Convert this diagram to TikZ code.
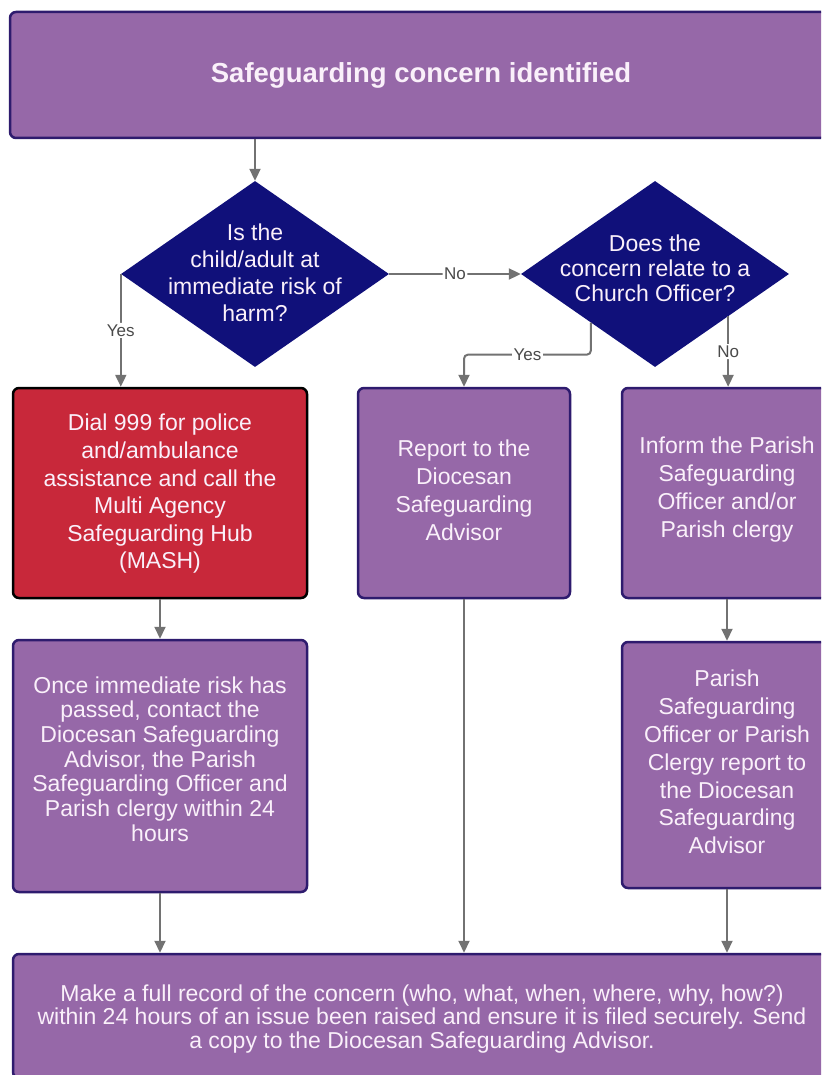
\documentclass[tikz,border=0pt]{standalone}
\usepackage{fontspec}
\setmainfont{Liberation Sans}
\usetikzlibrary{shapes.geometric,arrows.meta,calc}
\definecolor{boxpurple}{HTML}{9668A8}
\definecolor{boxborder}{HTML}{2E1B6E}
\definecolor{dianavy}{HTML}{10107A}
\definecolor{alertred}{HTML}{C8283A}
\definecolor{arrowgray}{HTML}{727272}
\definecolor{labelgray}{HTML}{4A4A4A}
\definecolor{textwhite}{HTML}{FAF0FA}
\begin{document}
\begin{tikzpicture}[x=1pt,y=-1pt,
  pbox/.style={draw=boxborder, line width=2.5pt, fill=boxpurple, rounded corners=6pt, inner sep=0pt},
  rbox/.style={pbox, draw=black, fill=alertred},
  dia/.style={diamond, fill=dianavy, draw=none, inner sep=0pt, minimum width=268pt, minimum height=186pt},
  btext/.style={text=textwhite, align=center, inner sep=0pt},
  conn/.style={draw=arrowgray, line width=2pt, -{Triangle[length=12pt,width=11pt]}, rounded corners=4pt},
  lbl/.style={fill=white, text=labelgray, font=\fontsize{17}{20}\selectfont, inner sep=1.5pt},
]
\useasboundingbox (0,0) rectangle (821,1075);
\fill[white] (0,0) rectangle (821,1075);
\begin{scope}
\clip (0,0) rectangle (821,1075);

% boxes and decisions
\node[pbox, minimum width=822pt, minimum height=126pt] (start) at (421,75) {};
\node[dia] (q1) at (255,274) {};
\node[dia] (q2) at (655,274) {};
\node[rbox, minimum width=294pt, minimum height=210pt] (dial) at (160,493) {};
\node[pbox, minimum width=212pt, minimum height=210pt] (report) at (464,493) {};
\node[pbox, minimum width=210pt, minimum height=210pt] (inform) at (727,493) {};
\node[pbox, minimum width=294pt, minimum height=252pt] (once) at (160,766) {};
\node[pbox, minimum width=210pt, minimum height=246pt] (parish) at (727,765) {};
\node[pbox, minimum width=818pt, minimum height=124pt] (final) at (422,1016) {};

% texts
\node[btext, font=\bfseries\fontsize{27.5}{32}\selectfont] (starttext) at (421,75) {Safeguarding concern identified};
\node[btext, font=\fontsize{23}{27}\selectfont] (q1text) at (255,273) {Is the\\child/adult at\\immediate risk of\\harm?};
\node[btext, font=\fontsize{23}{25}\selectfont] (q2text) at (655,268) {Does the\\concern relate to a\\Church Officer?};
\node[btext, font=\fontsize{23}{27.6}\selectfont] (dialtext) at (160,494) {Dial 999 for police\\and/ambulance\\assistance and call the\\Multi Agency\\Safeguarding Hub\\(MASH)};
\node[btext, font=\fontsize{23}{28}\selectfont] (reporttext) at (464,490) {Report to the\\Diocesan\\Safeguarding\\Advisor};
\node[btext, font=\fontsize{23}{28}\selectfont] (informtext) at (727,490) {Inform the Parish\\Safeguarding\\Officer and/or\\Parish clergy};
\node[btext, font=\fontsize{23}{24.7}\selectfont] (oncetext) at (160,759) {Once immediate risk has\\passed, contact the\\Diocesan Safeguarding\\Advisor, the Parish\\Safeguarding Officer and\\Parish clergy within 24\\hours};
\node[btext, font=\fontsize{23}{27.8}\selectfont] (parishtext) at (727,762) {Parish\\Safeguarding\\Officer or Parish\\Clergy report to\\the Diocesan\\Safeguarding\\Advisor};
\node[btext, font=\fontsize{23}{23.5}\selectfont] (finaltext) at (422,1019) {Make a full record of the concern (who, what, when, where, why, how?)\\within 24 hours of an issue been raised and ensure it is filed securely. Send\\a copy to the Diocesan Safeguarding Advisor.};

% connectors
\draw[conn] (start.south -| q1.north) -- (q1.north);
\draw[conn] (q1.west) -- node[lbl]{Yes} (q1.west |- dial.north);
\draw[conn] (q1.east) -- node[lbl]{No} (q2.west);
\coordinate (q2y) at ($(q2.south)!0.478!(q2.west)$);
\draw[conn] (q2y) -- ++(0,32) -| node[lbl,pos=0.25]{Yes} (report.north);
\coordinate (q2n) at ($(q2.south)!0.545!(q2.east)$);
\draw[conn] (q2n) -- node[lbl]{No} (q2n |- inform.north);
\draw[conn] (dial.south) -- (once.north);
\draw[conn] (inform.south) -- (parish.north);
\draw[conn] (once.south) -- (once.south |- final.north);
\draw[conn] (report.south) -- (report.south |- final.north);
\draw[conn] (parish.south) -- (parish.south |- final.north);
\end{scope}
\end{tikzpicture}
\end{document}
